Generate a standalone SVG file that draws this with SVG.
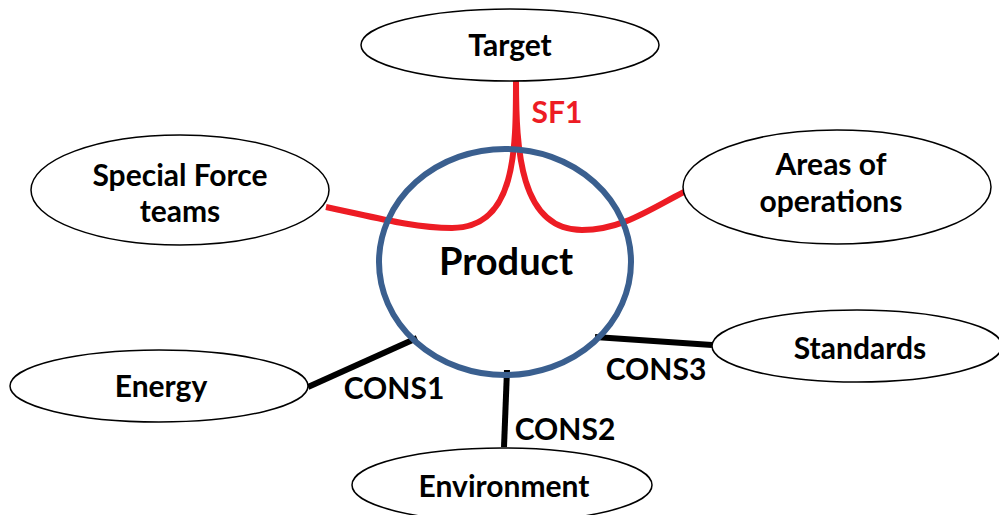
<svg xmlns="http://www.w3.org/2000/svg" width="999" height="515" viewBox="0 0 999 515">
<style>
.n{fill:#fff;stroke:#000;stroke-width:1.5}
.t{font-family:Lato,"Liberation Sans",sans-serif;font-weight:bold;font-size:30px;fill:#000;text-anchor:middle}
.red{fill:none;stroke:#ED1C24;stroke-width:6}
.blk{fill:none;stroke:#000;stroke-width:6}
</style>
<rect width="999" height="515" fill="#fff"/>
<g id="connectors">
<path class="red" d="M516,80 C516,150 516,228 452,228 C412,228 370,216 326,207"/>
<path class="red" d="M516,80 C516,150 520,230 582,230 C622,230 652,208 684,192"/>
<line class="blk" x1="308" y1="387" x2="417" y2="338"/>
<line class="blk" x1="507" y1="370" x2="504" y2="447"/>
<line class="blk" x1="595" y1="337" x2="712" y2="345"/>
</g>
<g id="product">
<ellipse cx="505" cy="262" rx="126" ry="113" fill="none" stroke="#3A5F8F" stroke-width="6"/>
<text class="t" x="506" y="275" style="font-size:38px">Product</text>
</g>
<g id="target">
<ellipse class="n" cx="510" cy="45" rx="149" ry="36"/>
<text class="t" x="510" y="56">Target</text>
</g>
<g id="sf-teams">
<ellipse class="n" cx="180" cy="190" rx="149" ry="55"/>
<text class="t" x="180" y="186">Special Force</text>
<text class="t" x="180" y="222">teams</text>
</g>
<g id="areas">
<ellipse class="n" cx="837" cy="187" rx="154" ry="57"/>
<text class="t" x="831" y="175">Areas of</text>
<text class="t" x="831" y="212">operations</text>
</g>
<g id="energy">
<ellipse class="n" cx="159" cy="386" rx="149" ry="36"/>
<text class="t" x="161" y="397">Energy</text>
</g>
<g id="standards">
<ellipse class="n" cx="857" cy="346" rx="145" ry="36"/>
<text class="t" x="860" y="359">Standards</text>
</g>
<g id="environment">
<ellipse class="n" cx="502" cy="485" rx="150" ry="37"/>
<text class="t" x="504" y="497">Environment</text>
</g>
<g id="labels">
<text class="t" x="557" y="123" style="fill:#ED1C24">SF1</text>
<text class="t" x="394" y="399">CONS1</text>
<text class="t" x="565" y="440">CONS2</text>
<text class="t" x="656" y="380">CONS3</text>
</g>
</svg>
